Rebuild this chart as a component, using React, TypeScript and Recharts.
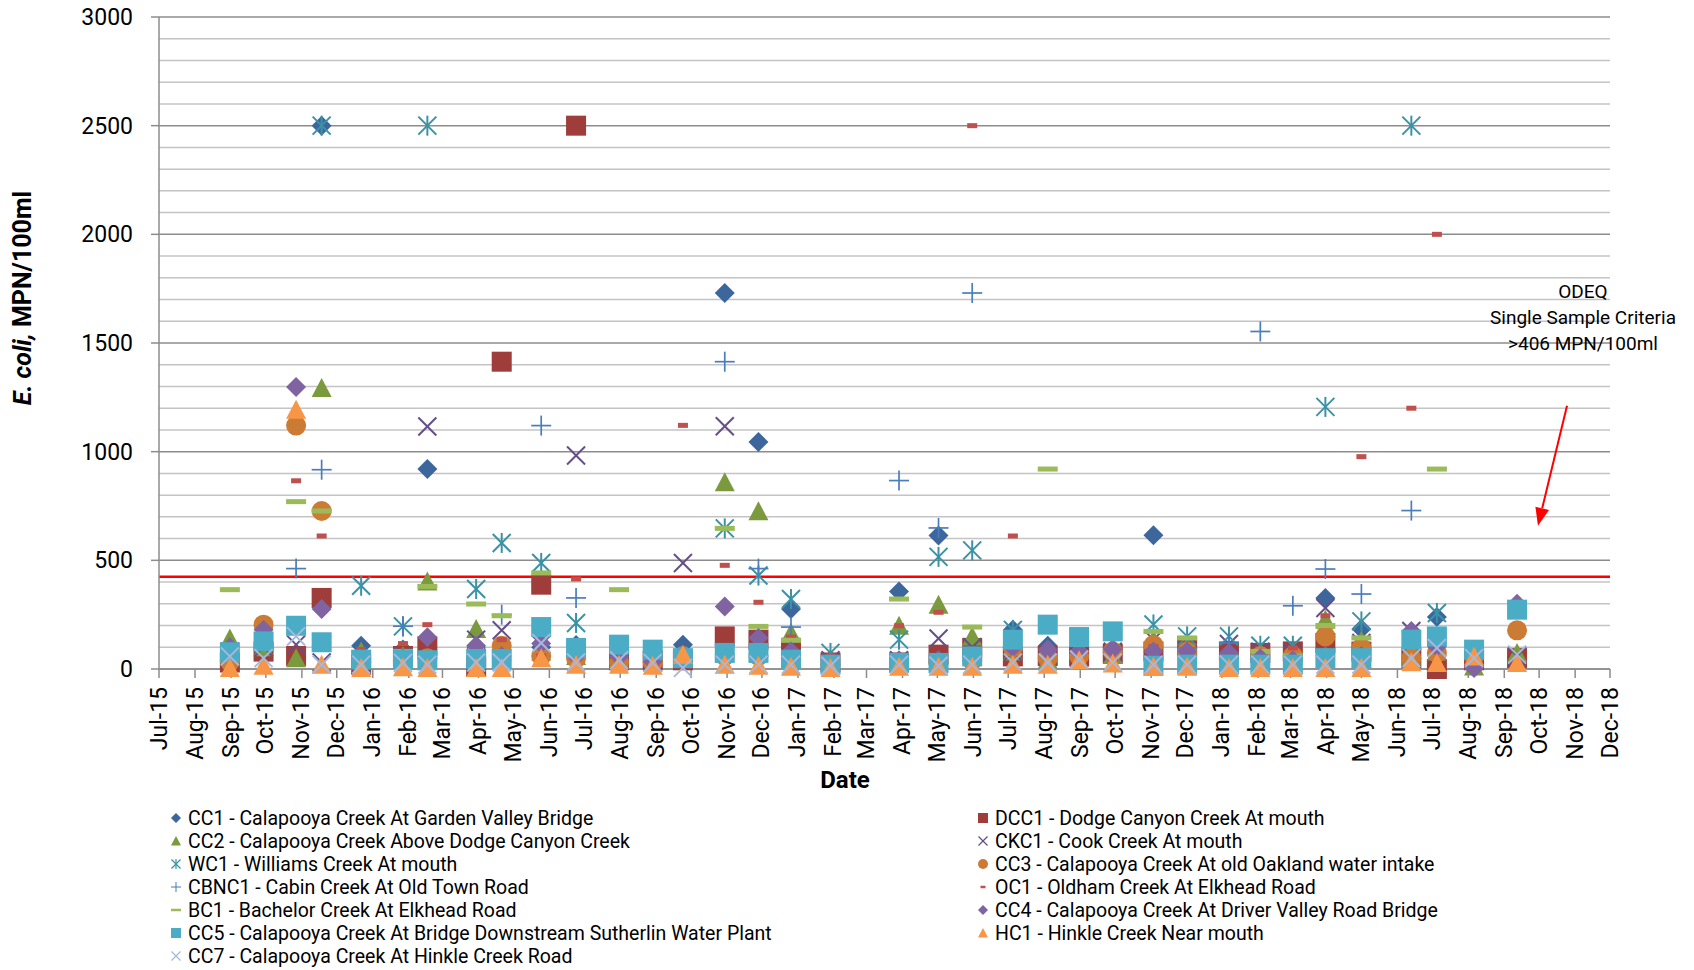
import React from 'react';
import { ScatterChart, Scatter, XAxis, YAxis, CartesianGrid, ReferenceLine } from 'recharts';

const FONT = 'Roboto, "Open Sans", sans-serif';

// month tick labels, first one sits on 1 Jul 2015
const monthLabels = [
  'Jul-15', 'Aug-15', 'Sep-15', 'Oct-15', 'Nov-15', 'Dec-15',
  'Jan-16', 'Feb-16', 'Mar-16', 'Apr-16', 'May-16', 'Jun-16', 'Jul-16', 'Aug-16', 'Sep-16', 'Oct-16', 'Nov-16', 'Dec-16',
  'Jan-17', 'Feb-17', 'Mar-17', 'Apr-17', 'May-17', 'Jun-17', 'Jul-17', 'Aug-17', 'Sep-17', 'Oct-17', 'Nov-17', 'Dec-17',
  'Jan-18', 'Feb-18', 'Mar-18', 'Apr-18', 'May-18', 'Jun-18', 'Jul-18', 'Aug-18', 'Sep-18', 'Oct-18', 'Nov-18', 'Dec-18',
];

// sampling dates
const sampleDates = [
  '2015-08-31', '2015-09-29', '2015-10-27', '2015-11-18', '2015-12-22', '2016-01-27', '2016-02-17', '2016-03-30',
  '2016-04-21', '2016-05-25', '2016-06-24', '2016-07-31', '2016-08-29', '2016-09-24', '2016-10-30', '2016-11-28',
  '2016-12-26', '2017-01-29', '2017-03-29', '2017-05-02', '2017-05-31', '2017-07-05', '2017-08-04', '2017-08-31',
  '2017-09-29', '2017-11-03', '2017-12-02', '2018-01-07', '2018-02-03', '2018-03-03', '2018-03-31', '2018-05-01',
  '2018-06-13', '2018-07-05', '2018-08-06', '2018-09-12',
];

// E. coli, MPN/100ml per site (null = not sampled)
const cc1 = [40, 60, 66, 2500, 107, 90, 920, 60, 90, 100, 110, 60, 50, 112, 1730, 1045, 276, 40, 357, 614, 80, 181, 107, 80, 90, 615, 80, 90, 60, 70, 327, 184, 100, 239, 30, 58];
const dcc1 = [30, 80, 60, 327, 20, 60, 104, 10, 1414, 388, 2500, 40, 40, 40, 150, 135, 97, 30, 30, 66, 97, 58, 60, 60, 70, 81, 104, 81, 74, 81, 120, 80, 50, 0, 40, 50];
const cc2 = [140, 100, 50, 1293, 80, 60, 403, 184, 80, 81, 60, 50, 30, 60, 859, 726, 166, 30, 199, 296, 150, 80, 43, 89, 66, 135, 100, 80, 70, 60, 227, 130, 60, 80, 12, 74];
const ckc1 = [80, 100, 112, 30, 40, 60, 1116, 135, 178, 112, 982, 60, 40, 488, 1117, 130, 100, 40, 40, 140, 100, 80, 60, 50, 80, 135, 80, 115, 80, 70, 281, 120, 175, 100, 40, 60];
const wc1 = [null, null, null, 2500, 383, 196, 2500, 368, 580, 488, 212, null, null, null, 647, 430, 322, 74, 135, 516, 546, 180, null, null, null, 205, 150, 150, 107, 107, 1206, 219, 2500, 258, null, null];
const cc3 = [35, 204, 1120, 727, 30, 40, 50, 40, 107, 60, 50, 30, 30, 60, 60, 60, 50, 20, 20, 30, 40, 100, 50, 60, 80, 110, 80, 50, 60, 60, 150, 97, 50, 74, 60, 178];
const cbnc1 = [null, null, 462, 917, null, 197, null, null, 250, 1120, 327, null, null, null, 1414, 462, 193, null, 867, 649, 1730, null, null, null, null, null, 97, 120, 1553, 291, 460, 345, 729, null, null, null];
const oc1 = [null, null, 866, 612, 90, 117, 204, 60, 135, 60, 414, null, null, 1121, 477, 307, 147, 60, 199, 261, 2500, 612, null, null, 40, 104, 90, 60, 60, 97, 245, 977, 1200, 2000, null, null];
const bc1 = [365, null, 770, 727, null, 81, 380, 299, 245, 442, null, 365, null, null, 647, 196, 132, null, 322, null, 193, null, 920, null, null, 173, 143, null, 81, 60, 200, 143, null, 920, null, null];
const cc4 = [100, 181, 1298, 276, 30, 50, 146, 107, 60, 117, 60, 58, 35, 40, 288, 143, 81, 20, 40, 40, 60, 100, 89, 80, 92, 80, 80, 74, 50, 40, 60, 60, 175, 104, 5, 300];
const cc5 = [77, 127, 199, 123, 43, 43, 40, 46, 46, 193, 97, 112, 89, 50, 74, 74, 43, 20, 28, 28, 58, 135, 204, 147, 173, 15, 20, 20, 20, 20, 50, 50, 135, 150, 89, 273];
const hc1 = [5, 15, 1193, 20, 5, 8, 5, 5, 5, 50, 20, 20, 15, 66, 20, 15, 10, 5, 10, 10, 10, 20, 20, 40, 25, 10, 10, 5, 5, 5, 5, 5, 31, 28, 58, 28];
const cc7 = [58, 50, 150, 20, 20, 28, 20, 30, 30, 120, 30, 40, 28, 5, 20, 20, 20, 15, 20, 15, 20, 30, 30, 44, 30, 20, 20, 20, 20, 20, 20, 20, 50, 97, 50, 66];

const yTicks = [0, 500, 1000, 1500, 2000, 2500, 3000];
const minorValues = [100, 200, 300, 400, 600, 700, 800, 900, 1100, 1200, 1300, 1400, 1600, 1700, 1800, 1900, 2100, 2200, 2300, 2400, 2600, 2700, 2800, 2900];
const criteria = 425;

const DAY = 86400000;
const START = Date.UTC(2015, 6, 1);
const toDay = (s: string) => {
  const [y, m, d] = s.split('-').map(Number);
  return (Date.UTC(y, m - 1, d) - START) / DAY;
};
const tickDays = monthLabels.map((_, i) => (Date.UTC(2015, 6 + i, 1) - START) / DAY);
const labelByDay: Record<number, string> = {};
tickDays.forEach((d, i) => (labelByDay[d] = monthLabels[i]));

type Kind = 'diamond' | 'square' | 'triangle' | 'x' | 'star' | 'plus' | 'circle' | 'dash' | 'shortDash';

const series: { name: string; kind: Kind; color: string; values: (number | null)[] }[] = [
  { name: 'CC1 - Calapooya Creek At Garden Valley Bridge', kind: 'diamond', color: '#3d679c', values: cc1 },
  { name: 'DCC1 - Dodge Canyon Creek At mouth', kind: 'square', color: '#9e3d3a', values: dcc1 },
  { name: 'CC2 - Calapooya Creek Above Dodge Canyon Creek', kind: 'triangle', color: '#7b9a3e', values: cc2 },
  { name: 'CKC1 - Cook Creek At mouth', kind: 'x', color: '#654f86', values: ckc1 },
  { name: 'WC1 - Williams Creek At mouth', kind: 'star', color: '#3a92a6', values: wc1 },
  { name: 'CC3 - Calapooya Creek At old Oakland water intake', kind: 'circle', color: '#cc7b35', values: cc3 },
  { name: 'CBNC1 - Cabin Creek At Old Town Road', kind: 'plus', color: '#4a7ebb', values: cbnc1 },
  { name: 'OC1 - Oldham Creek At Elkhead Road', kind: 'shortDash', color: '#c0504d', values: oc1 },
  { name: 'BC1 - Bachelor Creek At Elkhead Road', kind: 'dash', color: '#9bbb59', values: bc1 },
  { name: 'CC4 - Calapooya Creek At Driver Valley Road Bridge', kind: 'diamond', color: '#8064a2', values: cc4 },
  { name: 'CC5 - Calapooya Creek At Bridge Downstream Sutherlin Water Plant', kind: 'square', color: '#4bacc6', values: cc5 },
  { name: 'HC1 - Hinkle Creek Near mouth', kind: 'triangle', color: '#f79646', values: hc1 },
  { name: 'CC7 - Calapooya Creek At Hinkle Creek Road', kind: 'x', color: '#a6b8dc', values: cc7 },
];

const marker = (kind: Kind, color: string, cx: number, cy: number, s: number) => {
  const w = Math.max(1.2, s / 5);
  switch (kind) {
    case 'diamond':
      return <polygon points={`${cx},${cy - s} ${cx + s},${cy} ${cx},${cy + s} ${cx - s},${cy}`} fill={color} />;
    case 'square':
      return <rect x={cx - s} y={cy - s} width={2 * s} height={2 * s} fill={color} />;
    case 'triangle':
      return <polygon points={`${cx},${cy - s} ${cx + s},${cy + s * 0.9} ${cx - s},${cy + s * 0.9}`} fill={color} />;
    case 'circle':
      return <circle cx={cx} cy={cy} r={s} fill={color} />;
    case 'x':
      return (
        <g stroke={color} strokeWidth={w}>
          <line x1={cx - s * 0.9} y1={cy - s * 0.9} x2={cx + s * 0.9} y2={cy + s * 0.9} />
          <line x1={cx - s * 0.9} y1={cy + s * 0.9} x2={cx + s * 0.9} y2={cy - s * 0.9} />
        </g>
      );
    case 'star':
      return (
        <g stroke={color} strokeWidth={w}>
          <line x1={cx - s * 0.9} y1={cy - s * 0.9} x2={cx + s * 0.9} y2={cy + s * 0.9} />
          <line x1={cx - s * 0.9} y1={cy + s * 0.9} x2={cx + s * 0.9} y2={cy - s * 0.9} />
          <line x1={cx} y1={cy - s} x2={cx} y2={cy + s} />
        </g>
      );
    case 'plus':
      return (
        <g stroke={color} strokeWidth={w * 0.85}>
          <line x1={cx - s} y1={cy} x2={cx + s} y2={cy} />
          <line x1={cx} y1={cy - s} x2={cx} y2={cy + s} />
        </g>
      );
    case 'dash':
      return <rect x={cx - s} y={cy - s / 4} width={2 * s} height={s / 2} fill={color} />;
    case 'shortDash':
      return <rect x={cx - s / 2} y={cy - s / 4} width={s} height={s / 2} fill={color} />;
  }
};

const XTick = (props: any) => {
  const { x, y, payload } = props;
  return (
    <g transform={`translate(${x},${y})`}>
      <text transform="rotate(-90)" x={-9} y={0} textAnchor="end" dominantBaseline="central" fill="#000" fontSize={23} fontFamily={FONT}>
        {labelByDay[payload.value]}
      </text>
    </g>
  );
};

const Arrow = (p: any) => {
  const { x1, y1, x2, y2 } = p;
  const ang = Math.atan2(y2 - y1, x2 - x1);
  const len = 18, half = 7;
  const bx = x2 - len * Math.cos(ang), by = y2 - len * Math.sin(ang);
  const px = -Math.sin(ang) * half, py = Math.cos(ang) * half;
  return (
    <g>
      <line x1={x1} y1={y1} x2={bx} y2={by} stroke="#ff0000" strokeWidth={2} />
      <polygon points={`${x2},${y2} ${bx + px},${by + py} ${bx - px},${by - py}`} fill="#ff0000" />
    </g>
  );
};

export default function App() {
  const endDay = tickDays[tickDays.length - 1];
  return (
    <div style={{ position: 'relative', width: 1694, height: 970, background: '#fff', fontFamily: FONT }}>
      <style>{'body{margin:0}'}</style>
      <ScatterChart width={1694} height={970} margin={{ top: 17, right: 84, bottom: 181, left: 0 }}>
        <CartesianGrid vertical={false} horizontalValues={minorValues} stroke="#c4c4c4" strokeWidth={1.5} />
        <CartesianGrid vertical={false} horizontalValues={yTicks} stroke="#8c8c8c" strokeWidth={1.5} />
        <XAxis
          type="number"
          dataKey="x"
          domain={[0, endDay]}
          ticks={tickDays}
          interval={0}
          tick={<XTick />}
          tickSize={9}
          tickMargin={0}
          height={120}
          axisLine={{ stroke: '#8c8c8c', strokeWidth: 1.5 }}
          tickLine={{ stroke: '#8c8c8c', strokeWidth: 1.5 }}
        />
        <YAxis
          type="number"
          dataKey="y"
          domain={[0, 3000]}
          ticks={yTicks}
          interval={0}
          width={159}
          tickSize={8}
          tickMargin={18}
          tick={{ fill: '#000', fontSize: 23, fontFamily: FONT }}
          axisLine={{ stroke: '#8c8c8c', strokeWidth: 1.5 }}
          tickLine={{ stroke: '#8c8c8c', strokeWidth: 1.5 }}
        />
        <ReferenceLine y={criteria} stroke="#ff0000" strokeWidth={2.5} />
        {series.map((s) => (
          <Scatter
            key={s.name}
            name={s.name}
            data={sampleDates
              .map((d, i) => ({ x: toDay(d), y: s.values[i] }))
              .filter((p) => p.y !== null)}
            isAnimationActive={false}
            shape={(p: any) => marker(s.kind, s.color, p.cx, p.cy, 10)}
          />
        ))}
        <ReferenceLine
          segment={[
            { x: toDay('2018-10-25'), y: 1211 },
            { x: toDay('2018-09-30'), y: 659 },
          ]}
          shape={Arrow}
        />
      </ScatterChart>

      <div
        style={{
          position: 'absolute', left: 22, top: 298, transform: 'translate(-50%,-50%) rotate(-90deg)',
          whiteSpace: 'nowrap', fontSize: 25, fontWeight: 700, color: '#000',
        }}
      >
        <i>E. coli,</i> MPN/100ml
      </div>
      <div
        style={{
          position: 'absolute', left: 845, top: 780, transform: 'translate(-50%,-50%)',
          fontSize: 24, fontWeight: 700, color: '#000',
        }}
      >
        Date
      </div>
      <div
        style={{
          position: 'absolute', left: 1583, top: 279, transform: 'translateX(-50%)',
          fontSize: 19, lineHeight: '26px', textAlign: 'center', whiteSpace: 'nowrap', color: '#000',
        }}
      >
        ODEQ<br />Single Sample Criteria<br />&gt;406 MPN/100ml
      </div>

      {series.map((s, i) => {
        const col = i % 2;
        const row = Math.floor(i / 2);
        return (
          <div
            key={s.name}
            style={{
              position: 'absolute', left: col === 0 ? 170 : 977, top: 818 + row * 23 - 11.5, height: 23,
              display: 'flex', alignItems: 'center', fontSize: 19.5, whiteSpace: 'nowrap', color: '#000',
            }}
          >
            <svg width={12} height={12} style={{ marginRight: 6 }}>
              {marker(s.kind, s.color, 6, 6, 5)}
            </svg>
            {s.name}
          </div>
        );
      })}
    </div>
  );
}
